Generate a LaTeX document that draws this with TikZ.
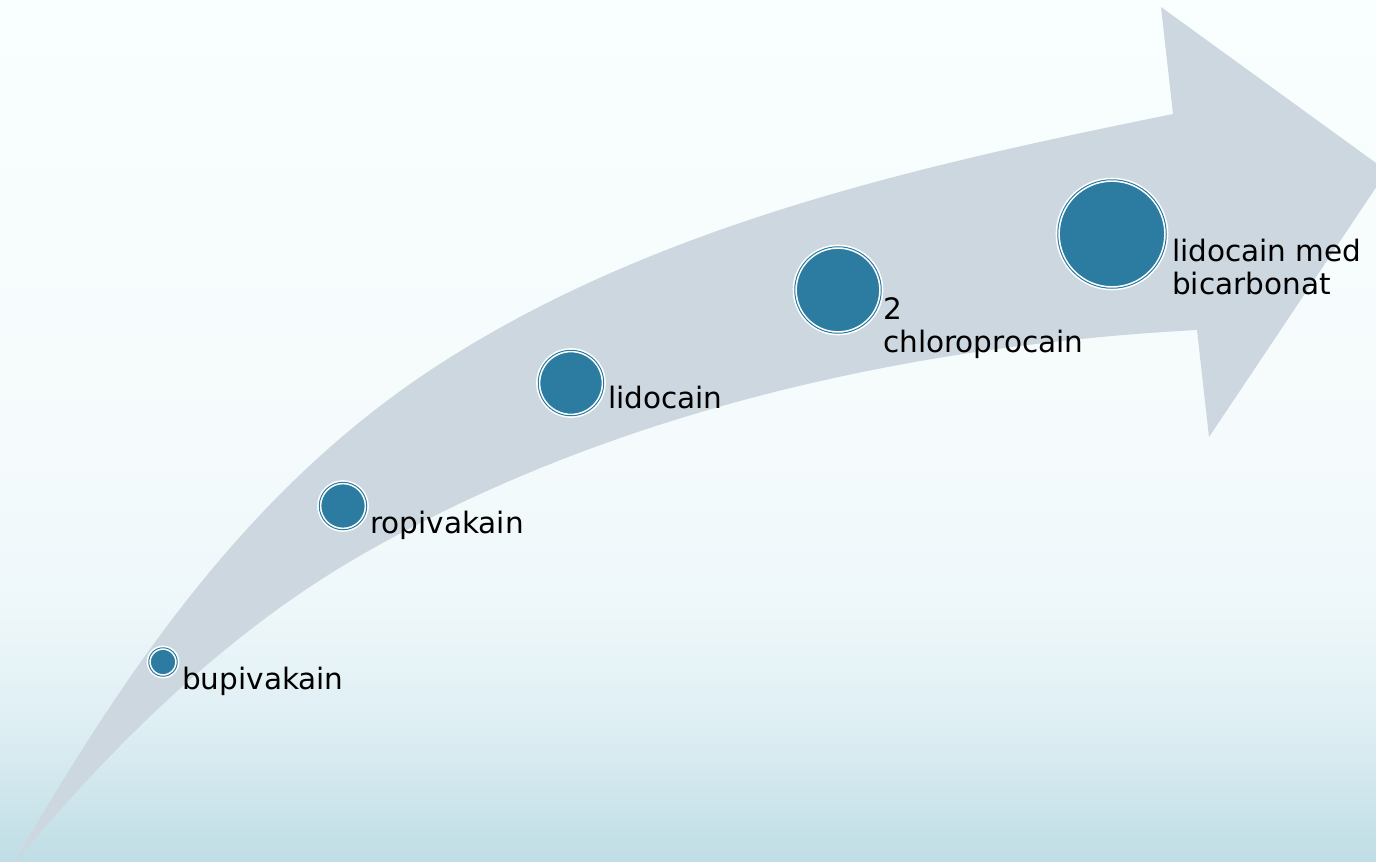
\documentclass[tikz,border=0pt]{standalone}
\usepackage{fontspec}
\setmainfont{DejaVu Sans}
\definecolor{bgA}{HTML}{F9FEFE}
\definecolor{bgB}{HTML}{F5FBFC}
\definecolor{bgC}{HTML}{EEF7FA}
\definecolor{bgD}{HTML}{DDEEF3}
\definecolor{bgE}{HTML}{BFDDE5}
\definecolor{arrowgrey}{HTML}{CDD7DF}
\definecolor{dotteal}{HTML}{2C7BA0}
\tikzset{
  bubble/.style={circle, inner sep=0pt, fill=dotteal, draw=white, line width=1.6pt,
                 double=dotteal, double distance=1pt},
  tag/.style={anchor=base west, inner sep=0pt, align=left, text=black,
              font=\fontsize{29.5}{33}\selectfont}
}
\begin{document}
\begin{tikzpicture}[x=1pt,y=-1pt]
  \useasboundingbox (0,0) rectangle (1376,862);
  % soft vertical background gradient
  \fill[top color=bgA, bottom color=bgB] (0,0) rectangle (1376,450);
  \fill[top color=bgB, bottom color=bgC] (0,450) rectangle (1376,610);
  \fill[top color=bgC, bottom color=bgD] (0,610) rectangle (1376,730);
  \fill[top color=bgD, bottom color=bgE] (0,730) rectangle (1376,862.5);
  % curved arrow
  \begin{scope}
    \clip (0,0) rectangle (1376,862);
    \fill[arrowgrey] (12,866)
      .. controls (127,667) and (252,483) .. (446,360)
      .. controls (662,223) and (922,165) .. (1173,114)
      -- (1161,7) -- (1387,171) -- (1209,437) -- (1197,330)
      .. controls (913,345) and (618,410) .. (370,550)
      .. controls (231,628) and (114,743) .. (12,866)
      -- cycle;
  \end{scope}
  % milestones
  \node[bubble, minimum size=28.5pt] (c1) at (163,662) {};
  \node[bubble, minimum size=47.5pt] (c2) at (343,506) {};
  \node[bubble, minimum size=65.5pt] (c3) at (571,383) {};
  \node[bubble, minimum size=86.5pt] (c4) at (838,290) {};
  \node[bubble, minimum size=108.5pt] (c5) at (1112,234) {};
  \node[tag] (t1) at (182,689) {bupivakain};
  \node[tag] (t2) at (370,533) {ropivakain};
  \node[tag] (t3) at (608,408) {lidocain};
  \node[tag] (t4) at (883,352) {2\\chloroprocain};
  \node[tag] (t5) at (1172,294) {lidocain med\\bicarbonat};
\end{tikzpicture}
\end{document}
